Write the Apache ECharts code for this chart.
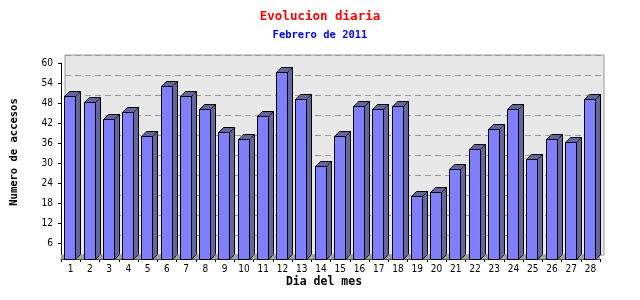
<!DOCTYPE html>
<html>
<head>
<meta charset="utf-8">
<script src="https://cdn.jsdelivr.net/npm/echarts@6.0.0/dist/echarts.min.js"></script>
<style>html,body{margin:0;padding:0;background:#fff;}#c{width:640px;height:300px;}</style>
</head>
<body>
<div id="c"></div>
<script>
// ---- data ----
const days = ['1','2','3','4','5','6','7','8','9','10','11','12','13','14','15','16','17','18','19','20','21','22','23','24','25','26','27','28'];
const accesos = [49,47,42,44,37,52,49,45,38,36,43,56,48,28,37,46,45,46,19,20,27,33,39,45,30,36,35,48];
const yTicks = [6,12,18,24,30,36,42,48,54,60];
const titleText = 'Evolucion diaria';
const subtitleText = 'Febrero de 2011';
const yName = 'Numero de accesos';
const xName = 'Dia del mes';

const FACE = '#8080ff';
const SIDE = '#66669e';
const FLOOR = '#9e9e9e';

function renderItem(params, api) {
  const xi = api.value(0), v = api.value(1);
  const top = api.coord([xi, v]);
  const bot = api.coord([xi, 0]);
  const bw = api.size([1, 0])[0];
  const fw = Math.round(bw * 0.55);
  const d = Math.round(bw * 0.24);
  const x0 = Math.round(top[0] - bw * 0.32) + 0.5;
  const x1 = x0 + fw;
  const yt = Math.round(top[1]) + 0.5;
  const yb = Math.round(bot[1]) + 0.5;
  return {
    type: 'group',
    children: [
      {type: 'rect', shape: {x: bot[0] - bw / 2, y: yb - d, width: bw, height: d}, style: {fill: FLOOR}},
      {type: 'polygon', shape: {points: [[x1, yb], [x1, yt], [x1 + d, yt - d], [x1 + d, yb - d]]}, style: {fill: SIDE, stroke: '#000', lineWidth: 1}},
      {type: 'polygon', shape: {points: [[x0, yt], [x0 + d, yt - d], [x1 + d, yt - d], [x1, yt]]}, style: {fill: SIDE, stroke: '#000', lineWidth: 1}},
      {type: 'rect', shape: {x: x0, y: yt, width: fw, height: yb - yt}, style: {fill: FACE, stroke: '#000', lineWidth: 1}}
    ]
  };
}

const chart = echarts.init(document.getElementById('c'), null, {renderer: 'canvas'});
chart.setOption({
  animation: false,
  backgroundColor: '#fff',
  title: [
    {text: titleText, left: 'center', top: 5, textStyle: {color: '#ff0000', fontFamily: 'DejaVu Sans Mono', fontSize: 12.5, fontWeight: 'bold'}},
    {text: subtitleText, left: 'center', top: 25, textStyle: {color: '#0000ff', fontFamily: 'DejaVu Sans Mono', fontSize: 10.5, fontWeight: 'bold'}}
  ],
  graphic: [
    {type: 'text', x: 14, y: 152, rotation: Math.PI / 2, style: {text: yName, fontFamily: 'DejaVu Sans Mono', fontSize: 10.5, fontWeight: 'bold', fill: '#000', align: 'center', verticalAlign: 'middle'}},
    {type: 'text', x: 324, y: 282, style: {text: xName, fontFamily: 'DejaVu Sans Mono', fontSize: 11.5, fontWeight: 'bold', fill: '#000', align: 'center', verticalAlign: 'middle'}}
  ],
  grid: [
    {left: 65, right: 36, top: 55, bottom: 45, show: true, backgroundColor: '#e8e8e8', borderColor: '#9a9a9a', borderWidth: 1},
    {left: 61, right: 40, top: 59, bottom: 41},
    {left: 61, right: 40, top: 63, bottom: 41}
  ],
  xAxis: [
    {gridIndex: 0, type: 'category', data: days, show: false},
    {gridIndex: 1, type: 'category', data: days, boundaryGap: true,
      axisLine: {show: true, lineStyle: {color: '#000', width: 1}},
      axisTick: {show: true, length: 3, interval: 0, lineStyle: {color: '#000'}},
      axisLabel: {interval: 0, margin: 5, color: '#000', fontFamily: 'DejaVu Sans Condensed, DejaVu Sans', fontSize: 10},
      splitLine: {show: false}},
    {gridIndex: 2, type: 'category', data: days, show: false}
  ],
  yAxis: [
    {gridIndex: 0, type: 'value', min: 0, max: 60, interval: 6,
      axisLine: {show: false}, axisTick: {show: false}, axisLabel: {show: false},
      splitLine: {show: true, lineStyle: {color: '#9a9a9a', type: [6, 4], width: 1}}},
    {gridIndex: 1, type: 'value', min: 0, max: 60, show: false},
    {gridIndex: 2, type: 'value', min: 1.2, max: 60,
      axisLine: {show: true, lineStyle: {color: '#000', width: 1}},
      axisTick: {show: true, length: 3, customValues: yTicks, lineStyle: {color: '#000'}},
      axisLabel: {customValues: yTicks, margin: 8, color: '#000', fontFamily: 'DejaVu Sans Condensed, DejaVu Sans', fontSize: 10},
      splitLine: {show: false}}
  ],
  series: [
    {type: 'custom', xAxisIndex: 1, yAxisIndex: 1, renderItem: renderItem,
      encode: {x: 0, y: 1},
      data: accesos.map((v, i) => [i, v])}
  ]
});
</script>
</body>
</html>
